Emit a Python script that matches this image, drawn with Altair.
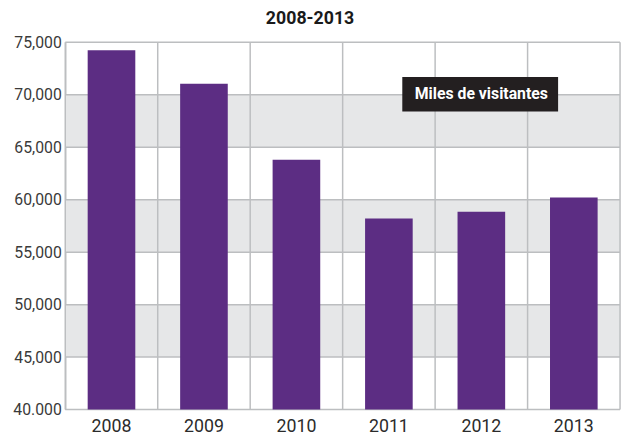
import altair as alt
import pandas as pd

years = ["2008", "2009", "2010", "2011", "2012", "2013"]
visitors = [74250, 71050, 63800, 58200, 58850, 60200]

band_lo = [45000, 55000, 65000]
band_hi = [50000, 60000, 70000]
grid_values = [40000, 45000, 50000, 55000, 60000, 65000, 70000, 75000]

title_text = "2008-2013"
note_text = "Miles de visitantes"
note_year = "2012"
note_left, note_right = "2011", "2013"
note_lo, note_mid, note_hi = 68400, 70050, 71700

W, H = 562, 372
FONT = "Roboto"
GRID = "#bcbec0"

df = pd.DataFrame({"year": years, "value": visitors, "base": [40000] * len(years)})
bands = pd.DataFrame({"lo": band_lo, "hi": band_hi})
grid = pd.DataFrame({"v": grid_values})
note = pd.DataFrame({"year": [note_year], "left": [note_left], "right": [note_right],
                     "lo": [note_lo], "hi": [note_hi], "mid": [note_mid], "t": [note_text]})

xscale = alt.Scale(domain=years, paddingInner=0, paddingOuter=0)
yscale = alt.Scale(domain=[40000, 75000], nice=False, zero=False)

yaxis = alt.Axis(title=None, values=grid_values, ticks=False, grid=False, domain=True,
                 domainColor=GRID, domainWidth=1.5, labelFont=FONT, labelFontSize=16,
                 labelColor="#3a3a3a", labelPadding=4,
                 labelExpr="datum.value == 40000 ? '40.000' : format(datum.value, ',')")

band_layer = alt.Chart(bands).mark_rect(color="#e6e7e8").encode(
    y=alt.Y("lo:Q", scale=yscale, axis=yaxis), y2="hi:Q")

hgrid = alt.Chart(grid).mark_rule(color=GRID, strokeWidth=1.5).encode(
    y=alt.Y("v:Q", scale=yscale))

vgrid = alt.Chart(df).mark_rule(color=GRID, strokeWidth=1.5).encode(
    x=alt.X("year:N", scale=xscale, bandPosition=0, axis=None))

vgrid_end = alt.Chart(df.head(1)).mark_rule(color=GRID, strokeWidth=1.5).encode(
    x=alt.value(W), y=alt.value(0), y2=alt.value(H))

bars = alt.Chart(df).mark_bar(color="#5c2d83", width={"band": 0.515}).encode(
    x=alt.X("year:N", scale=xscale, axis=None),
    y=alt.Y("value:Q", scale=yscale),
    y2="base:Q")

year_labels = alt.Chart(df).mark_text(font=FONT, fontSize=18, color="#2b2b2b",
                                      baseline="middle", dy=18).encode(
    x=alt.X("year:N", scale=xscale, axis=None),
    y=alt.Y("base:Q", scale=yscale),
    text="year:N")

note_box = alt.Chart(note).mark_rect(color="#231f20").encode(
    x=alt.X("left:N", scale=xscale, bandPosition=0.645, axis=None),
    x2=alt.X2("right:N", bandPosition=0.33),
    y=alt.Y("lo:Q", scale=yscale), y2="hi:Q")

note_txt = alt.Chart(note).mark_text(color="white", font=FONT, fontSize=16,
                                     fontWeight="bold", baseline="middle").encode(
    x=alt.X("year:N", scale=xscale, axis=None), y=alt.Y("mid:Q", scale=yscale), text="t:N")

chart = alt.layer(band_layer, hgrid, vgrid, vgrid_end, bars, year_labels, note_box, note_txt).properties(
    width=W, height=H,
    title=alt.Title(title_text, font=FONT, fontSize=18, fontWeight="bold", color="#1a1a1a",
                    anchor="middle", offset=7, dx=-33),
    autosize=alt.AutoSizeParams(type="none"),
    padding={"left": 58, "top": 32, "right": 4, "bottom": 24},
).configure_view(stroke=None)

chart.save("out.html", embed_options={"renderer": "svg", "actions": False})
